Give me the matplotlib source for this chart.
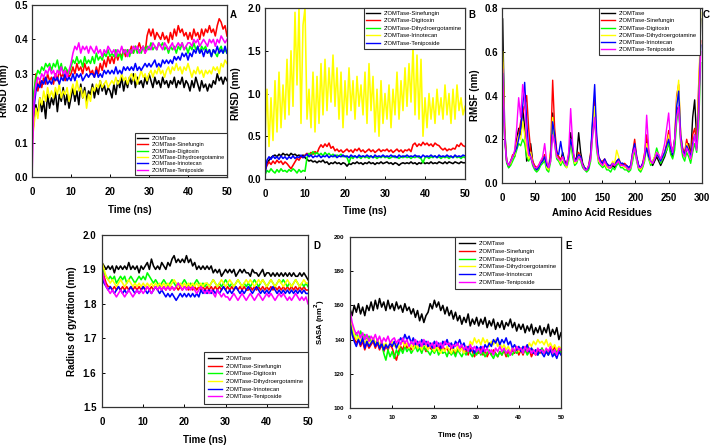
import numpy as np
import matplotlib
matplotlib.use("Agg")
import matplotlib.pyplot as plt

plt.rcParams['font.family'] = ['Liberation Sans', 'DejaVu Sans']
plt.rcParams['font.weight'] = 'bold'

colors = ["black", "red", "#00ff00", "#ffff00", "blue", "#ff00ff"]
names6 = ["2'OMTase", "2'OMTase-Sinefungin", "2'OMTase-Digitoxin",
          "2'OMTase-Dihydroergotamine", "2'OMTase-Irinotecan", "2'OMTase-Teniposide"]
names_b = ["2'OMTase-Sinefungin", "2'OMTase-Digitoxin", "2'OMTase-Dihydroergotamine",
           "2'OMTase-Irinotecan", "2'OMTase-Teniposide"]
colors_b = ["black", "red", "#00ff00", "#ffff00", "blue"]

time_ns = np.arange(101) * 0.5
residues = np.arange(100) * 3 + 1

# ---- panel A: RMSD
rmsd_a_apo = [0.10, 0.17, 0.21, 0.18, 0.23, 0.19, 0.22, 0.17, 0.24, 0.20, 0.23,
              0.21, 0.25, 0.19, 0.24, 0.22, 0.26, 0.21, 0.24, 0.20, 0.23,
              0.26, 0.22, 0.25, 0.21, 0.27, 0.23, 0.26, 0.22, 0.25, 0.24,
              0.27, 0.23, 0.26, 0.24, 0.28, 0.25, 0.27, 0.24, 0.26, 0.25,
              0.23, 0.27, 0.24, 0.28, 0.26, 0.29, 0.25, 0.28, 0.26, 0.29,
              0.27, 0.30, 0.26, 0.29, 0.27, 0.28, 0.26, 0.29, 0.27, 0.30,
              0.28, 0.26, 0.29, 0.27, 0.28, 0.26, 0.29, 0.27, 0.28, 0.26,
              0.28, 0.27, 0.29, 0.26, 0.28, 0.27, 0.29, 0.26, 0.28, 0.27,
              0.25, 0.28, 0.26, 0.29, 0.27, 0.25, 0.28, 0.26, 0.27, 0.25,
              0.27, 0.26, 0.28, 0.27, 0.30, 0.28, 0.29, 0.27, 0.29, 0.28]
rmsd_a_sine = [0.12, 0.22, 0.30, 0.25, 0.28, 0.26, 0.29, 0.27, 0.30, 0.28, 0.29,
               0.27, 0.30, 0.28, 0.31, 0.29, 0.30, 0.28, 0.31, 0.29, 0.30,
               0.32, 0.30, 0.33, 0.31, 0.32, 0.30, 0.33, 0.31, 0.32, 0.30,
               0.31, 0.29, 0.32, 0.30, 0.33, 0.31, 0.34, 0.32, 0.35, 0.33,
               0.35, 0.33, 0.36, 0.34, 0.36, 0.35, 0.37, 0.35, 0.37, 0.36,
               0.38, 0.36, 0.38, 0.37, 0.39, 0.37, 0.38, 0.36, 0.41, 0.43,
               0.41, 0.43, 0.40, 0.42, 0.41, 0.40, 0.42, 0.40, 0.41, 0.39,
               0.42, 0.40, 0.43, 0.41, 0.44, 0.42, 0.43, 0.41, 0.42, 0.40,
               0.42, 0.40, 0.43, 0.41, 0.42, 0.40, 0.43, 0.41, 0.43, 0.42,
               0.44, 0.42, 0.43, 0.41, 0.44, 0.46, 0.45, 0.43, 0.44, 0.41]
rmsd_a_digi = [0.14, 0.25, 0.29, 0.31, 0.30, 0.32, 0.31, 0.33, 0.32, 0.33, 0.31,
               0.33, 0.32, 0.34, 0.31, 0.33, 0.30, 0.32, 0.31, 0.30, 0.32,
               0.34, 0.33, 0.35, 0.33, 0.34, 0.32, 0.35, 0.33, 0.34, 0.33,
               0.35, 0.33, 0.36, 0.34, 0.35, 0.34, 0.36, 0.35, 0.37, 0.35,
               0.36, 0.35, 0.37, 0.35, 0.36, 0.34, 0.37, 0.36, 0.37, 0.35,
               0.37, 0.36, 0.38, 0.36, 0.37, 0.36, 0.38, 0.37, 0.38, 0.37,
               0.39, 0.37, 0.38, 0.37, 0.39, 0.38, 0.39, 0.37, 0.38, 0.36,
               0.38, 0.37, 0.38, 0.36, 0.38, 0.37, 0.39, 0.37, 0.38, 0.36,
               0.38, 0.37, 0.39, 0.37, 0.38, 0.36, 0.38, 0.37, 0.38, 0.36,
               0.37, 0.35, 0.37, 0.36, 0.35, 0.37, 0.38, 0.36, 0.37, 0.36]
rmsd_a_dihy = [0.10, 0.15, 0.20, 0.17, 0.23, 0.21, 0.25, 0.22, 0.26, 0.23, 0.25,
               0.23, 0.26, 0.24, 0.27, 0.23, 0.25, 0.24, 0.26, 0.22, 0.25,
               0.27, 0.24, 0.28, 0.25, 0.26, 0.23, 0.25, 0.20, 0.24, 0.22,
               0.26, 0.25, 0.27, 0.26, 0.28, 0.26, 0.27, 0.28, 0.26, 0.27,
               0.28, 0.27, 0.29, 0.27, 0.28, 0.30, 0.28, 0.29, 0.27, 0.29,
               0.30, 0.28, 0.30, 0.27, 0.29, 0.31, 0.29, 0.30, 0.28, 0.30,
               0.31, 0.29, 0.31, 0.30, 0.32, 0.30, 0.31, 0.29, 0.31, 0.32,
               0.30, 0.32, 0.31, 0.33, 0.31, 0.32, 0.30, 0.32, 0.31, 0.33,
               0.31, 0.29, 0.31, 0.30, 0.32, 0.30, 0.31, 0.29, 0.31, 0.30,
               0.31, 0.30, 0.32, 0.31, 0.32, 0.30, 0.33, 0.32, 0.34, 0.33]
rmsd_a_irin = [0.12, 0.20, 0.25, 0.27, 0.26, 0.28, 0.27, 0.29, 0.27, 0.28, 0.27,
               0.29, 0.28, 0.29, 0.27, 0.29, 0.28, 0.30, 0.28, 0.29, 0.28,
               0.30, 0.28, 0.30, 0.29, 0.30, 0.28, 0.29, 0.30, 0.29, 0.30,
               0.30, 0.29, 0.31, 0.29, 0.30, 0.29, 0.31, 0.30, 0.31, 0.30,
               0.31, 0.30, 0.32, 0.30, 0.31, 0.30, 0.32, 0.31, 0.32, 0.31,
               0.32, 0.31, 0.33, 0.31, 0.32, 0.31, 0.32, 0.33, 0.32, 0.33,
               0.32, 0.33, 0.34, 0.32, 0.33, 0.32, 0.34, 0.33, 0.34, 0.33,
               0.34, 0.33, 0.35, 0.34, 0.35, 0.34, 0.36, 0.35, 0.36, 0.34,
               0.36, 0.35, 0.37, 0.36, 0.38, 0.36, 0.37, 0.35, 0.37, 0.36,
               0.37, 0.35, 0.37, 0.36, 0.38, 0.36, 0.37, 0.36, 0.38, 0.36]
rmsd_a_teni = [0.00, 0.22, 0.27, 0.29, 0.28, 0.30, 0.29, 0.31, 0.30, 0.32, 0.30,
               0.31, 0.29, 0.31, 0.30, 0.32, 0.30, 0.31, 0.29, 0.31, 0.33,
               0.36, 0.38, 0.37, 0.39, 0.36, 0.38, 0.37, 0.38, 0.36, 0.38,
               0.37, 0.36, 0.38, 0.36, 0.37, 0.35, 0.37, 0.36, 0.38, 0.37,
               0.36, 0.37, 0.35, 0.37, 0.36, 0.38, 0.36, 0.37, 0.35, 0.37,
               0.36, 0.38, 0.37, 0.38, 0.36, 0.37, 0.38, 0.36, 0.37, 0.38,
               0.37, 0.39, 0.38, 0.37, 0.39, 0.38, 0.37, 0.39, 0.38, 0.37,
               0.38, 0.39, 0.37, 0.38, 0.39, 0.38, 0.39, 0.37, 0.38, 0.39,
               0.39, 0.38, 0.40, 0.39, 0.40, 0.38, 0.39, 0.40, 0.39, 0.38,
               0.40, 0.39, 0.40, 0.38, 0.40, 0.39, 0.41, 0.40, 0.39, 0.40]

# ---- panel B: RMSD
rmsd_b_sine = [0.10, 0.18, 0.22, 0.25, 0.27, 0.28, 0.26, 0.29, 0.27, 0.30, 0.28,
               0.29, 0.27, 0.30, 0.28, 0.29, 0.27, 0.28, 0.26, 0.28, 0.25,
               0.23, 0.21, 0.22, 0.20, 0.21, 0.19, 0.21, 0.20, 0.22, 0.19,
               0.20, 0.17, 0.19, 0.18, 0.20, 0.18, 0.19, 0.17, 0.19, 0.18,
               0.15, 0.18, 0.17, 0.19, 0.18, 0.20, 0.18, 0.19, 0.17, 0.19,
               0.18, 0.20, 0.18, 0.19, 0.17, 0.19, 0.18, 0.20, 0.18, 0.19,
               0.20, 0.18, 0.19, 0.17, 0.19, 0.18, 0.16, 0.18, 0.19, 0.18,
               0.19, 0.18, 0.20, 0.18, 0.19, 0.17, 0.19, 0.18, 0.20, 0.18,
               0.19, 0.18, 0.20, 0.18, 0.19, 0.18, 0.20, 0.19, 0.18, 0.20,
               0.18, 0.20, 0.19, 0.18, 0.20, 0.19, 0.18, 0.20, 0.19, 0.19]
rmsd_b_digi = [0.10, 0.16, 0.20, 0.17, 0.21, 0.18, 0.22, 0.19, 0.21, 0.17, 0.20,
               0.18, 0.15, 0.12, 0.16, 0.20, 0.24, 0.22, 0.26, 0.25, 0.28,
               0.30, 0.28, 0.31, 0.29, 0.32, 0.30, 0.36, 0.40, 0.37, 0.41,
               0.38, 0.42, 0.36, 0.38, 0.33, 0.35, 0.32, 0.34, 0.31, 0.33,
               0.35, 0.32, 0.34, 0.31, 0.35, 0.33, 0.36, 0.32, 0.34, 0.31,
               0.33, 0.35, 0.32, 0.34, 0.31, 0.33, 0.35, 0.32, 0.34, 0.33,
               0.35, 0.32, 0.34, 0.31, 0.33, 0.35, 0.32, 0.34, 0.31, 0.34,
               0.33, 0.35, 0.32, 0.40, 0.42, 0.38, 0.41, 0.39, 0.43, 0.40,
               0.42, 0.39, 0.41, 0.38, 0.42, 0.40, 0.39, 0.36, 0.34, 0.36,
               0.33, 0.35, 0.34, 0.36, 0.35, 0.40, 0.38, 0.42, 0.39, 0.38]
rmsd_b_dihy = [0.05, 0.10, 0.08, 0.12, 0.09, 0.07, 0.11, 0.08, 0.12, 0.09, 0.10,
               0.08, 0.11, 0.09, 0.12, 0.10, 0.07, 0.11, 0.08, 0.10, 0.09,
               0.25, 0.30, 0.28, 0.32, 0.29, 0.31, 0.28, 0.30, 0.27, 0.31,
               0.28, 0.30, 0.27, 0.29, 0.26, 0.28, 0.27, 0.29, 0.26, 0.27,
               0.25, 0.19, 0.26, 0.24, 0.27, 0.25, 0.26, 0.24, 0.27, 0.25,
               0.26, 0.24, 0.27, 0.25, 0.26, 0.24, 0.26, 0.25, 0.27, 0.25,
               0.26, 0.24, 0.25, 0.27, 0.25, 0.26, 0.24, 0.26, 0.25, 0.27,
               0.25, 0.26, 0.24, 0.26, 0.25, 0.27, 0.25, 0.24, 0.19, 0.25,
               0.26, 0.24, 0.26, 0.25, 0.27, 0.25, 0.26, 0.24, 0.26, 0.25,
               0.26, 0.24, 0.26, 0.25, 0.27, 0.25, 0.26, 0.24, 0.26, 0.25]
rmsd_b_irin = [0.50, 1.05, 0.38, 0.95, 0.45, 1.15, 0.55, 1.25, 0.60, 1.10, 0.70,
               1.40, 0.75, 1.50, 0.85, 1.95, 1.10, 2.00, 0.65, 1.80, 2.00,
               0.70, 1.05, 0.60, 1.25, 0.55, 1.20, 0.65, 1.35, 0.75, 1.40,
               0.80, 1.30, 0.90, 1.45, 0.85, 1.30, 0.70, 1.25, 0.60, 1.15,
               0.75, 1.30, 0.80, 1.15, 0.70, 1.20, 0.85, 1.10, 0.75, 1.25,
               0.65, 1.35, 0.80, 1.20, 0.55, 1.05, 0.50, 1.15, 0.65, 1.00,
               0.70, 1.10, 0.60, 1.05, 0.75, 1.25, 0.70, 1.15, 0.80, 1.30,
               0.85, 1.35, 0.90, 1.55, 0.75, 1.45, 0.70, 1.40, 0.50, 0.95,
               0.60, 1.00, 0.70, 0.95, 0.65, 1.05, 0.75, 0.95, 0.70, 1.10,
               0.75, 1.00, 0.65, 1.05, 0.70, 1.10, 0.80, 0.95, 0.75, 0.85]
rmsd_b_teni = [0.05, 0.22, 0.26, 0.23, 0.27, 0.24, 0.26, 0.23, 0.27, 0.24, 0.26,
               0.23, 0.26, 0.24, 0.27, 0.24, 0.26, 0.25, 0.28, 0.25, 0.27,
               0.29, 0.26, 0.28, 0.25, 0.27, 0.26, 0.28, 0.25, 0.27, 0.26,
               0.28, 0.25, 0.27, 0.26, 0.28, 0.25, 0.27, 0.26, 0.28, 0.26,
               0.27, 0.25, 0.28, 0.26, 0.27, 0.25, 0.28, 0.26, 0.27, 0.26,
               0.28, 0.26, 0.27, 0.25, 0.28, 0.26, 0.27, 0.26, 0.28, 0.26,
               0.27, 0.26, 0.28, 0.26, 0.27, 0.25, 0.28, 0.26, 0.27, 0.26,
               0.28, 0.26, 0.27, 0.26, 0.28, 0.26, 0.27, 0.25, 0.28, 0.26,
               0.27, 0.26, 0.28, 0.26, 0.27, 0.25, 0.28, 0.26, 0.27, 0.26,
               0.28, 0.26, 0.27, 0.25, 0.28, 0.26, 0.27, 0.26, 0.28, 0.27]

# ---- panel C: RMSF per residue
rmsf_apo = [0.75, 0.25, 0.10, 0.07, 0.09, 0.12, 0.14, 0.20, 0.25, 0.22,
            0.35, 0.25, 0.10, 0.12, 0.18, 0.10, 0.07, 0.06, 0.07, 0.09,
            0.10, 0.12, 0.07, 0.06, 0.12, 0.32, 0.20, 0.13, 0.12, 0.10,
            0.14, 0.10, 0.08, 0.12, 0.23, 0.15, 0.10, 0.12, 0.23, 0.14,
            0.09, 0.07, 0.06, 0.07, 0.12, 0.28, 0.30, 0.18, 0.11, 0.10,
            0.09, 0.10, 0.08, 0.07, 0.07, 0.08, 0.07, 0.09, 0.10, 0.08,
            0.09, 0.08, 0.07, 0.06, 0.07, 0.12, 0.17, 0.11, 0.07, 0.06,
            0.08, 0.12, 0.20, 0.12, 0.09, 0.08, 0.10, 0.12, 0.10, 0.08,
            0.10, 0.12, 0.15, 0.20, 0.14, 0.12, 0.18, 0.33, 0.35, 0.20,
            0.14, 0.12, 0.15, 0.18, 0.12, 0.30, 0.38, 0.20, 0.30, 0.75]
rmsf_sine = [0.55, 0.22, 0.10, 0.08, 0.10, 0.13, 0.12, 0.18, 0.22, 0.28,
             0.32, 0.35, 0.40, 0.25, 0.15, 0.10, 0.08, 0.07, 0.08, 0.10,
             0.11, 0.13, 0.08, 0.07, 0.15, 0.47, 0.25, 0.15, 0.12, 0.11,
             0.12, 0.10, 0.09, 0.13, 0.20, 0.14, 0.10, 0.11, 0.14, 0.12,
             0.08, 0.07, 0.06, 0.08, 0.14, 0.25, 0.38, 0.20, 0.12, 0.10,
             0.10, 0.11, 0.09, 0.08, 0.07, 0.09, 0.08, 0.10, 0.11, 0.09,
             0.08, 0.09, 0.08, 0.07, 0.08, 0.14, 0.20, 0.12, 0.08, 0.07,
             0.09, 0.14, 0.22, 0.13, 0.10, 0.09, 0.11, 0.13, 0.12, 0.10,
             0.12, 0.14, 0.18, 0.24, 0.18, 0.14, 0.20, 0.40, 0.45, 0.22,
             0.16, 0.14, 0.20, 0.16, 0.13, 0.22, 0.25, 0.18, 0.45, 0.65]
rmsf_digi = [0.45, 0.20, 0.09, 0.07, 0.08, 0.10, 0.12, 0.15, 0.18, 0.17,
             0.20, 0.18, 0.12, 0.10, 0.12, 0.08, 0.06, 0.05, 0.06, 0.08,
             0.09, 0.10, 0.06, 0.05, 0.10, 0.28, 0.18, 0.11, 0.10, 0.08,
             0.10, 0.08, 0.07, 0.10, 0.18, 0.12, 0.08, 0.09, 0.12, 0.10,
             0.07, 0.06, 0.05, 0.06, 0.10, 0.22, 0.30, 0.15, 0.09, 0.08,
             0.07, 0.08, 0.06, 0.06, 0.05, 0.07, 0.06, 0.08, 0.09, 0.07,
             0.07, 0.06, 0.06, 0.05, 0.06, 0.10, 0.15, 0.10, 0.06, 0.05,
             0.07, 0.10, 0.17, 0.11, 0.08, 0.10, 0.12, 0.16, 0.13, 0.09,
             0.11, 0.13, 0.15, 0.18, 0.13, 0.11, 0.15, 0.28, 0.35, 0.18,
             0.12, 0.10, 0.14, 0.12, 0.09, 0.14, 0.18, 0.14, 0.25, 0.55]
rmsf_dihy = [0.60, 0.23, 0.10, 0.08, 0.09, 0.12, 0.13, 0.17, 0.22, 0.20,
             0.28, 0.22, 0.15, 0.11, 0.14, 0.09, 0.07, 0.06, 0.07, 0.09,
             0.10, 0.12, 0.07, 0.06, 0.13, 0.30, 0.20, 0.12, 0.11, 0.09,
             0.12, 0.09, 0.07, 0.11, 0.20, 0.14, 0.09, 0.10, 0.13, 0.11,
             0.08, 0.07, 0.06, 0.07, 0.12, 0.25, 0.35, 0.17, 0.10, 0.09,
             0.08, 0.09, 0.07, 0.07, 0.08, 0.10, 0.09, 0.15, 0.12, 0.08,
             0.08, 0.07, 0.07, 0.06, 0.07, 0.12, 0.17, 0.11, 0.07, 0.06,
             0.08, 0.11, 0.18, 0.12, 0.09, 0.10, 0.12, 0.14, 0.13, 0.10,
             0.12, 0.14, 0.16, 0.22, 0.16, 0.13, 0.20, 0.38, 0.47, 0.23,
             0.15, 0.12, 0.18, 0.15, 0.11, 0.18, 0.22, 0.17, 0.40, 0.78]
rmsf_irin = [0.50, 0.21, 0.10, 0.08, 0.10, 0.12, 0.14, 0.16, 0.20, 0.25,
             0.35, 0.46, 0.28, 0.15, 0.12, 0.09, 0.07, 0.06, 0.07, 0.09,
             0.10, 0.12, 0.08, 0.07, 0.12, 0.28, 0.22, 0.14, 0.13, 0.19,
             0.13, 0.10, 0.08, 0.12, 0.20, 0.15, 0.10, 0.11, 0.13, 0.12,
             0.08, 0.07, 0.06, 0.07, 0.13, 0.30, 0.45, 0.22, 0.12, 0.10,
             0.09, 0.11, 0.09, 0.08, 0.08, 0.09, 0.08, 0.10, 0.11, 0.09,
             0.09, 0.08, 0.08, 0.07, 0.08, 0.14, 0.18, 0.12, 0.08, 0.07,
             0.09, 0.12, 0.16, 0.12, 0.10, 0.09, 0.11, 0.13, 0.12, 0.10,
             0.12, 0.14, 0.17, 0.20, 0.16, 0.13, 0.20, 0.35, 0.42, 0.22,
             0.15, 0.13, 0.17, 0.15, 0.12, 0.18, 0.22, 0.16, 0.35, 0.63]
rmsf_teni = [0.52, 0.20, 0.10, 0.08, 0.10, 0.12, 0.15, 0.25, 0.39, 0.30,
             0.45, 0.38, 0.20, 0.13, 0.12, 0.09, 0.07, 0.07, 0.08, 0.10,
             0.12, 0.18, 0.10, 0.07, 0.10, 0.22, 0.18, 0.12, 0.11, 0.10,
             0.12, 0.09, 0.08, 0.14, 0.34, 0.18, 0.10, 0.10, 0.12, 0.11,
             0.08, 0.06, 0.06, 0.08, 0.11, 0.22, 0.30, 0.16, 0.11, 0.09,
             0.08, 0.10, 0.08, 0.07, 0.07, 0.09, 0.08, 0.09, 0.10, 0.08,
             0.08, 0.08, 0.07, 0.06, 0.07, 0.13, 0.16, 0.11, 0.07, 0.07,
             0.08, 0.13, 0.31, 0.16, 0.10, 0.09, 0.11, 0.14, 0.13, 0.11,
             0.14, 0.18, 0.25, 0.32, 0.18, 0.14, 0.20, 0.30, 0.35, 0.20,
             0.14, 0.12, 0.16, 0.14, 0.11, 0.16, 0.22, 0.15, 0.30, 0.60]

# ---- panel D: radius of gyration
rg_apo = [1.92, 1.91, 1.90, 1.91, 1.90, 1.91, 1.89, 1.91, 1.90, 1.91, 1.90,
          1.91, 1.90, 1.92, 1.90, 1.91, 1.90, 1.91, 1.89, 1.91, 1.90,
          1.91, 1.92, 1.90, 1.93, 1.91, 1.90, 1.91, 1.90, 1.92, 1.91,
          1.90, 1.92, 1.91, 1.93, 1.94, 1.92, 1.93, 1.92, 1.93, 1.92,
          1.94, 1.92, 1.93, 1.91, 1.92, 1.90, 1.91, 1.90, 1.91, 1.90,
          1.91, 1.90, 1.91, 1.89, 1.90, 1.89, 1.90, 1.88, 1.89, 1.90,
          1.89, 1.90, 1.89, 1.90, 1.88, 1.89, 1.90, 1.89, 1.90, 1.89,
          1.89, 1.88, 1.90, 1.89, 1.89, 1.88, 1.89, 1.90, 1.88, 1.89,
          1.89, 1.88, 1.89, 1.88, 1.89, 1.88, 1.89, 1.88, 1.89, 1.88,
          1.89, 1.88, 1.89, 1.88, 1.88, 1.89, 1.88, 1.89, 1.88, 1.87]
rg_sine = [1.90, 1.88, 1.86, 1.85, 1.85, 1.84, 1.85, 1.84, 1.85, 1.84, 1.85,
           1.84, 1.85, 1.84, 1.85, 1.84, 1.85, 1.84, 1.85, 1.84, 1.85,
           1.84, 1.85, 1.84, 1.85, 1.84, 1.85, 1.84, 1.85, 1.84, 1.85,
           1.84, 1.85, 1.84, 1.85, 1.84, 1.85, 1.84, 1.85, 1.84, 1.85,
           1.85, 1.84, 1.85, 1.84, 1.85, 1.84, 1.85, 1.84, 1.85, 1.84,
           1.85, 1.84, 1.85, 1.84, 1.85, 1.84, 1.85, 1.84, 1.85, 1.84,
           1.85, 1.84, 1.85, 1.84, 1.85, 1.84, 1.85, 1.84, 1.85, 1.84,
           1.84, 1.85, 1.84, 1.85, 1.84, 1.85, 1.84, 1.85, 1.84, 1.85,
           1.84, 1.85, 1.84, 1.85, 1.84, 1.85, 1.84, 1.85, 1.84, 1.85,
           1.84, 1.85, 1.84, 1.85, 1.84, 1.85, 1.84, 1.85, 1.84, 1.84]
rg_digi = [1.91, 1.89, 1.88, 1.87, 1.88, 1.87, 1.88, 1.86, 1.87, 1.88, 1.87,
           1.88, 1.86, 1.87, 1.88, 1.87, 1.86, 1.87, 1.88, 1.87, 1.88,
           1.87, 1.89, 1.88, 1.87, 1.86, 1.87, 1.86, 1.85, 1.86, 1.87,
           1.86, 1.85, 1.86, 1.87, 1.86, 1.85, 1.86, 1.85, 1.86, 1.87,
           1.86, 1.85, 1.86, 1.85, 1.86, 1.87, 1.86, 1.85, 1.86, 1.85,
           1.86, 1.85, 1.86, 1.87, 1.86, 1.85, 1.86, 1.85, 1.86, 1.87,
           1.86, 1.85, 1.86, 1.85, 1.86, 1.87, 1.86, 1.85, 1.86, 1.85,
           1.86, 1.85, 1.86, 1.87, 1.86, 1.85, 1.86, 1.87, 1.86, 1.85,
           1.86, 1.87, 1.86, 1.85, 1.86, 1.87, 1.86, 1.87, 1.86, 1.85,
           1.86, 1.85, 1.86, 1.87, 1.86, 1.85, 1.86, 1.85, 1.86, 1.85]
rg_dihy = [1.92, 1.90, 1.88, 1.87, 1.86, 1.87, 1.86, 1.85, 1.86, 1.87, 1.86,
           1.85, 1.86, 1.87, 1.86, 1.85, 1.86, 1.85, 1.86, 1.85, 1.86,
           1.85, 1.86, 1.85, 1.86, 1.85, 1.86, 1.85, 1.86, 1.85, 1.86,
           1.85, 1.86, 1.85, 1.86, 1.87, 1.86, 1.85, 1.86, 1.85, 1.86,
           1.85, 1.86, 1.85, 1.86, 1.85, 1.86, 1.85, 1.86, 1.85, 1.86,
           1.86, 1.85, 1.86, 1.87, 1.86, 1.85, 1.86, 1.87, 1.86, 1.85,
           1.86, 1.87, 1.86, 1.85, 1.86, 1.87, 1.86, 1.85, 1.86, 1.87,
           1.86, 1.87, 1.86, 1.85, 1.86, 1.87, 1.86, 1.87, 1.86, 1.85,
           1.86, 1.87, 1.86, 1.85, 1.86, 1.87, 1.86, 1.85, 1.86, 1.87,
           1.86, 1.85, 1.86, 1.87, 1.86, 1.85, 1.86, 1.87, 1.86, 1.86]
rg_irin = [1.88, 1.86, 1.85, 1.84, 1.85, 1.84, 1.83, 1.84, 1.85, 1.84, 1.83,
           1.84, 1.83, 1.84, 1.85, 1.84, 1.83, 1.84, 1.83, 1.84, 1.85,
           1.84, 1.83, 1.84, 1.83, 1.84, 1.85, 1.84, 1.83, 1.84, 1.83,
           1.82, 1.83, 1.82, 1.83, 1.82, 1.81, 1.82, 1.83, 1.82, 1.83,
           1.82, 1.83, 1.82, 1.83, 1.82, 1.83, 1.82, 1.84, 1.83, 1.84,
           1.83, 1.84, 1.83, 1.84, 1.83, 1.84, 1.83, 1.84, 1.85, 1.84,
           1.83, 1.84, 1.83, 1.84, 1.85, 1.84, 1.83, 1.84, 1.83, 1.84,
           1.85, 1.84, 1.83, 1.84, 1.85, 1.84, 1.83, 1.84, 1.83, 1.84,
           1.83, 1.84, 1.85, 1.84, 1.83, 1.84, 1.83, 1.84, 1.83, 1.84,
           1.83, 1.84, 1.83, 1.84, 1.83, 1.84, 1.83, 1.84, 1.83, 1.83]
rg_teni = [1.90, 1.87, 1.85, 1.84, 1.83, 1.84, 1.83, 1.82, 1.83, 1.84, 1.83,
           1.82, 1.83, 1.84, 1.83, 1.82, 1.83, 1.84, 1.83, 1.84, 1.83,
           1.84, 1.85, 1.84, 1.83, 1.84, 1.85, 1.84, 1.85, 1.84, 1.85,
           1.84, 1.85, 1.84, 1.85, 1.84, 1.85, 1.86, 1.85, 1.84, 1.85,
           1.84, 1.85, 1.84, 1.85, 1.84, 1.83, 1.84, 1.85, 1.84, 1.83,
           1.84, 1.83, 1.84, 1.83, 1.82, 1.84, 1.83, 1.82, 1.83, 1.82,
           1.82, 1.81, 1.82, 1.83, 1.82, 1.81, 1.82, 1.83, 1.82, 1.81,
           1.82, 1.83, 1.82, 1.81, 1.82, 1.83, 1.82, 1.81, 1.82, 1.83,
           1.82, 1.83, 1.82, 1.81, 1.82, 1.83, 1.82, 1.83, 1.82, 1.81,
           1.82, 1.81, 1.82, 1.83, 1.82, 1.81, 1.82, 1.81, 1.82, 1.80]

# ---- panel E: SASA
sasa_apo = [158, 154, 160, 156, 161, 155, 159, 154, 160, 157, 162,
            157, 163, 158, 164, 159, 162, 157, 163, 158, 161,
            157, 162, 158, 160, 156, 161, 157, 159, 155, 158,
            153, 157, 151, 155, 150, 154, 156, 161, 158, 163,
            159, 162, 157, 160, 155, 159, 154, 157, 152, 156,
            151, 154, 149, 153, 150, 155, 148, 152, 149, 153,
            148, 152, 149, 153, 147, 151, 148, 152, 146, 150,
            147, 151, 146, 150, 148, 152, 147, 150, 145, 149,
            146, 149, 144, 148, 145, 149, 143, 147, 144, 148,
            143, 147, 144, 149, 142, 146, 143, 147, 140, 144]
sasa_sine = [150, 145, 141, 138, 140, 136, 139, 134, 138, 135, 137,
             139, 135, 138, 134, 137, 133, 136, 134, 137, 135,
             131, 128, 133, 136, 134, 138, 135, 137, 134, 136,
             138, 135, 137, 134, 136, 133, 137, 135, 134, 136,
             134, 137, 133, 136, 134, 135, 132, 136, 134, 131,
             135, 133, 136, 132, 134, 131, 135, 133, 130, 134,
             132, 135, 131, 134, 130, 133, 131, 134, 132, 130,
             133, 131, 134, 130, 133, 131, 134, 132, 135, 131,
             134, 131, 135, 132, 134, 130, 133, 131, 134, 132,
             135, 132, 134, 131, 135, 133, 136, 132, 134, 133]
sasa_digi = [152, 146, 142, 144, 140, 145, 141, 143, 139, 142, 138,
             141, 137, 140, 136, 139, 132, 128, 134, 130, 133,
             129, 134, 131, 135, 132, 136, 133, 135, 132, 134,
             136, 133, 135, 132, 136, 134, 133, 131, 134, 132,
             135, 131, 134, 132, 133, 130, 134, 131, 133, 130,
             134, 132, 130, 133, 131, 134, 132, 130, 133, 131,
             134, 131, 133, 130, 132, 134, 131, 129, 132, 130,
             133, 131, 134, 132, 130, 133, 131, 134, 132, 133,
             135, 132, 134, 131, 133, 135, 132, 134, 131, 133,
             135, 132, 134, 131, 135, 133, 131, 134, 132, 133]
sasa_dihy = [155, 148, 143, 140, 142, 139, 141, 138, 140, 137, 139,
             141, 138, 140, 137, 139, 136, 138, 135, 137, 139,
             136, 138, 135, 137, 139, 136, 138, 135, 137, 134,
             138, 135, 137, 134, 138, 136, 134, 137, 135, 133,
             136, 134, 132, 135, 133, 136, 134, 132, 135, 133,
             136, 133, 135, 132, 136, 134, 139, 137, 141, 138,
             140, 137, 141, 138, 140, 136, 139, 137, 140, 136,
             138, 135, 137, 134, 136, 133, 135, 134, 136, 133,
             135, 133, 136, 134, 138, 136, 139, 137, 140, 138,
             139, 137, 140, 136, 138, 135, 137, 134, 136, 135]
sasa_irin = [150, 143, 139, 136, 140, 137, 141, 135, 139, 136, 138,
             140, 136, 139, 135, 138, 134, 137, 135, 138, 136,
             139, 135, 138, 141, 139, 143, 140, 142, 138, 141,
             137, 139, 136, 140, 137, 139, 136, 138, 135, 139,
             136, 138, 135, 139, 137, 140, 136, 138, 135, 139,
             137, 140, 136, 138, 134, 136, 133, 135, 132, 136,
             134, 136, 133, 137, 135, 138, 136, 140, 138, 141,
             137, 140, 138, 141, 137, 139, 135, 137, 134, 136,
             133, 136, 134, 137, 133, 135, 132, 134, 131, 134,
             132, 130, 133, 131, 134, 130, 132, 129, 133, 131]
sasa_teni = [157, 150, 146, 143, 145, 141, 144, 140, 143, 139, 142,
             140, 143, 139, 142, 138, 141, 139, 142, 138, 140,
             141, 138, 140, 137, 141, 138, 140, 136, 139, 137,
             140, 137, 139, 136, 140, 137, 139, 136, 138, 135,
             139, 136, 138, 135, 139, 137, 138, 135, 137, 136,
             138, 135, 137, 134, 136, 133, 137, 134, 136, 133,
             135, 132, 136, 133, 135, 132, 134, 131, 135, 133,
             136, 133, 135, 132, 134, 131, 135, 133, 136, 134,
             135, 132, 136, 133, 135, 132, 134, 131, 135, 133,
             134, 132, 135, 133, 136, 132, 134, 131, 135, 134]

W, H = 710, 447
fig = plt.figure(figsize=(W / 100, H / 100), dpi=100)


def make_ax(l, r, t, b):
    return fig.add_axes([l / W, 1 - b / H, (r - l) / W, (b - t) / H])


def style(ax, fs, xpad=7, ypad=3):
    for s in ax.spines.values():
        s.set_linewidth(0.9)
        s.set_color("#333333")
    ax.tick_params(direction="in", length=2.5, width=0.7, labelsize=fs)
    ax.tick_params(axis="x", pad=xpad)
    ax.tick_params(axis="y", pad=ypad)
    for lab in ax.get_xticklabels() + ax.get_yticklabels():
        lab.set_fontweight("heavy")


def add_legend(ax, loc, anchor, fs=4.2, hl=2.4, sp=0.4, bp=0.5):
    leg = ax.legend(loc=loc, bbox_to_anchor=anchor, fontsize=fs, frameon=True,
                    fancybox=False, edgecolor="#333333", framealpha=1,
                    handlelength=hl, handletextpad=0.6, labelspacing=sp,
                    borderpad=bp, borderaxespad=0)
    leg.get_frame().set_linewidth(0.8)
    for t in leg.get_texts():
        t.set_fontweight("normal")
    for h in leg.get_lines():
        h.set_linewidth(1.0)


LW = 1.15

# A
ax = make_ax(32, 227, 5, 177)
for y, c, n in zip([rmsd_a_apo, rmsd_a_sine, rmsd_a_digi, rmsd_a_dihy, rmsd_a_irin, rmsd_a_teni],
                   colors, names6):
    ax.plot(time_ns, y, color=c, lw=LW, label=n)
ax.set_xlim(0, 50)
ax.set_ylim(0, 0.5)
ax.set_xticks([0, 10, 20, 30, 40, 50])
ax.set_yticks([0.0, 0.1, 0.2, 0.3, 0.4, 0.5])
ax.set_yticklabels(["0.0", "0.1", "0.2", "0.3", "0.4", "0.5"])
style(ax, 7)
ax.set_xlabel("Time (ns)", fontsize=7, fontweight="heavy")
ax.set_ylabel("RMSD (nm)", fontsize=7, fontweight="heavy")
ax.xaxis.set_label_coords(0.5, -0.165)
ax.yaxis.set_label_coords(-0.118, 0.5)
add_legend(ax, "lower right", (1.0, 0.01), fs=4.0, hl=1.9, sp=0.25, bp=0.45)
fig.text(230 / W, 1 - 15 / H, "A", fontsize=7, fontweight="heavy", va="center")

# B
ax = make_ax(265, 465, 8, 179)
for y, c, n in zip([rmsd_b_sine, rmsd_b_digi, rmsd_b_dihy, rmsd_b_irin, rmsd_b_teni],
                   colors_b, names_b):
    ax.plot(time_ns, y, color=c, lw=LW, label=n)
ax.set_xlim(0, 50)
ax.set_ylim(0, 2.0)
ax.set_xticks([0, 10, 20, 30, 40, 50])
ax.set_yticks([0.0, 0.5, 1.0, 1.5, 2.0])
ax.set_yticklabels(["0.0", "0.5", "1.0", "1.5", "2.0"])
style(ax, 7)
ax.set_xlabel("Time (ns)", fontsize=7, fontweight="heavy")
ax.set_ylabel("RMSD (nm)", fontsize=7, fontweight="heavy")
ax.xaxis.set_label_coords(0.5, -0.16)
ax.yaxis.set_label_coords(-0.12, 0.5)
add_legend(ax, "upper right", (1.0, 1.0))
fig.text(468 / W, 1 - 15 / H, "B", fontsize=7, fontweight="heavy", va="center")

# C
ax = make_ax(502, 702, 8, 183)
for y, c, n in zip([rmsf_apo, rmsf_sine, rmsf_digi, rmsf_dihy, rmsf_irin, rmsf_teni],
                   colors, names6):
    ax.plot(residues, y, color=c, lw=1.0, label=n)
ax.set_xlim(0, 300)
ax.set_ylim(0, 0.8)
ax.set_xticks([0, 50, 100, 150, 200, 250, 300])
ax.set_yticks([0.0, 0.2, 0.4, 0.6, 0.8])
ax.set_yticklabels(["0.0", "0.2", "0.4", "0.6", "0.8"])
style(ax, 7)
ax.set_xlabel("Amino Acid Residues", fontsize=7, fontweight="heavy")
ax.set_ylabel("RMSF (nm)", fontsize=7, fontweight="heavy")
ax.xaxis.set_label_coords(0.5, -0.14)
ax.yaxis.set_label_coords(-0.11, 0.5)
add_legend(ax, "upper right", (0.99, 1.0), sp=0.38)
fig.text(703 / W, 1 - 15 / H, "C", fontsize=7, fontweight="heavy", va="center")

# D
ax = make_ax(102, 308, 235, 407)
for y, c, n in zip([rg_apo, rg_sine, rg_digi, rg_dihy, rg_irin, rg_teni], colors, names6):
    ax.plot(time_ns, y, color=c, lw=LW, label=n)
ax.set_xlim(0, 50)
ax.set_ylim(1.5, 2.0)
ax.set_xticks([0, 10, 20, 30, 40, 50])
ax.set_yticks([1.5, 1.6, 1.7, 1.8, 1.9, 2.0])
style(ax, 7, ypad=4)
ax.set_xlabel("Time (ns)", fontsize=7, fontweight="heavy")
ax.set_ylabel("Radius of gyration (nm)", fontsize=7, fontweight="heavy")
ax.xaxis.set_label_coords(0.5, -0.165)
ax.yaxis.set_label_coords(-0.121, 0.5)
add_legend(ax, "lower right", (1.0, 0.02), sp=0.45, bp=0.7)
fig.text(313 / W, 1 - 246 / H, "D", fontsize=7, fontweight="heavy", va="center")

# E
ax = make_ax(350, 561, 237, 408)
for y, c, n in zip([sasa_apo, sasa_sine, sasa_digi, sasa_dihy, sasa_irin, sasa_teni],
                   colors, names6):
    ax.plot(time_ns, y, color=c, lw=LW, label=n)
ax.set_xlim(0, 50)
ax.set_ylim(100, 200)
ax.set_xticks([0, 10, 20, 30, 40, 50])
ax.set_yticks([100, 120, 140, 160, 180, 200])
style(ax, 4.5, xpad=5, ypad=4)
ax.set_xlabel("Time (ns)", fontsize=5.5, fontweight="heavy")
ax.set_ylabel("SASA (nm$^{2}$)", fontsize=5.5, fontweight="heavy")
ax.xaxis.set_label_coords(0.5, -0.14)
ax.yaxis.set_label_coords(-0.109, 0.5)
add_legend(ax, "upper right", (1.0, 1.0), hl=2.8, sp=0.45, bp=0.7)
fig.text(565 / W, 1 - 246 / H, "E", fontsize=7, fontweight="heavy", va="center")

fig.savefig("out.png", dpi=100)
